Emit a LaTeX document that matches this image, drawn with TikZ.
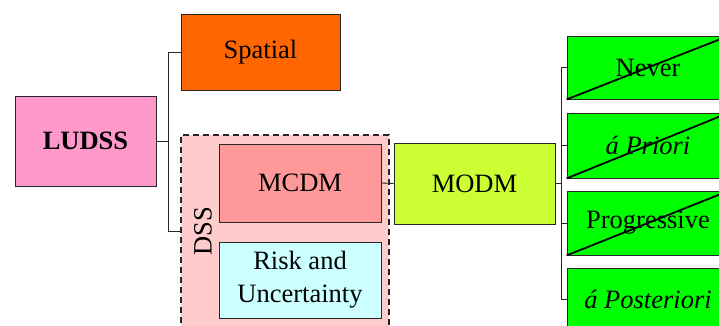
\documentclass[tikz,border=0pt]{standalone}
\usepackage{fontspec}
\setmainfont{Liberation Serif}
\definecolor{cLudss}{HTML}{FF99CC}
\definecolor{cSpatial}{HTML}{FF6600}
\definecolor{cDss}{HTML}{FFCCCC}
\definecolor{cMcdm}{HTML}{FF9999}
\definecolor{cRisk}{HTML}{CCFFFF}
\definecolor{cModm}{HTML}{CCFF33}
\definecolor{cGreen}{HTML}{00FF00}
\begin{document}
\begin{tikzpicture}[x=1pt,y=-1pt,
  box/.style={draw=black!85,line width=0.9pt,inner sep=0pt,align=center,
    font=\fontsize{26.5}{33}\selectfont},
  conn/.style={draw=black!85,line width=0.9pt},
  strike/.style={draw=black,line width=1.8pt}]
\useasboundingbox (0,0) rectangle (719,326);
\clip (0,0) rectangle (719,326);
% nodes
\node[box,fill=cLudss,minimum width=141pt,minimum height=90pt] (ludss) at (85.5,141) {\textbf{LUDSS}};
\node[box,fill=cSpatial,minimum width=159pt,minimum height=76pt] (spatial) at (260.5,52) {Spatial};
\node[box,fill=cDss,dashed,dash pattern=on 6pt off 4pt,line width=1.1pt,minimum width=208pt,minimum height=192pt] (dss) at (285,231) {};
\node[font=\fontsize{26.5}{33}\selectfont,rotate=90,inner sep=0pt] (dsslabel) at (203,231) {DSS};
\node[box,fill=cMcdm,minimum width=162pt,minimum height=78pt] (mcdm) at (300,183) {MCDM};
\node[box,fill=cRisk,minimum width=162pt,minimum height=76pt] (risk) at (300,280) {Risk and\\Uncertainty};
\node[box,fill=cModm,minimum width=161pt,minimum height=81pt] (modm) at (474.5,183.5) {MODM};
\node[box,fill=cGreen,minimum width=162pt,minimum height=63pt] (never) at (648,67.5) {Never};
\node[box,fill=cGreen,minimum width=162pt,minimum height=65pt] (priori) at (648,145.5) {\textit{á Priori}};
\node[box,fill=cGreen,minimum width=162pt,minimum height=64pt] (prog) at (648,223) {Progressive};
\node[box,fill=cGreen,minimum width=162pt,minimum height=63pt] (post) at (648,299.5) {\textit{á Posteriori}};
% strike lines
\draw[strike] (never.south west) -- (never.north east);
\draw[strike] (priori.south west) -- (priori.north east);
\draw[strike] (prog.south west) -- (prog.north east);
% connectors
\coordinate (lj) at (168,141);
\draw[conn] (ludss.east) -- (lj);
\draw[conn] (spatial.west) -| (lj);
\draw[conn] (dss.west) -| (lj);
\draw[conn] (mcdm.east) -- (modm.west);
\coordinate (rj) at (561,183.5);
\draw[conn] (modm.east) -- (rj);
\draw[conn] (never.west) -| (rj);
\draw[conn] (priori.west) -| (rj);
\draw[conn] (prog.west) -| (rj);
\draw[conn] (post.west) -| (rj);
\end{tikzpicture}
\end{document}
